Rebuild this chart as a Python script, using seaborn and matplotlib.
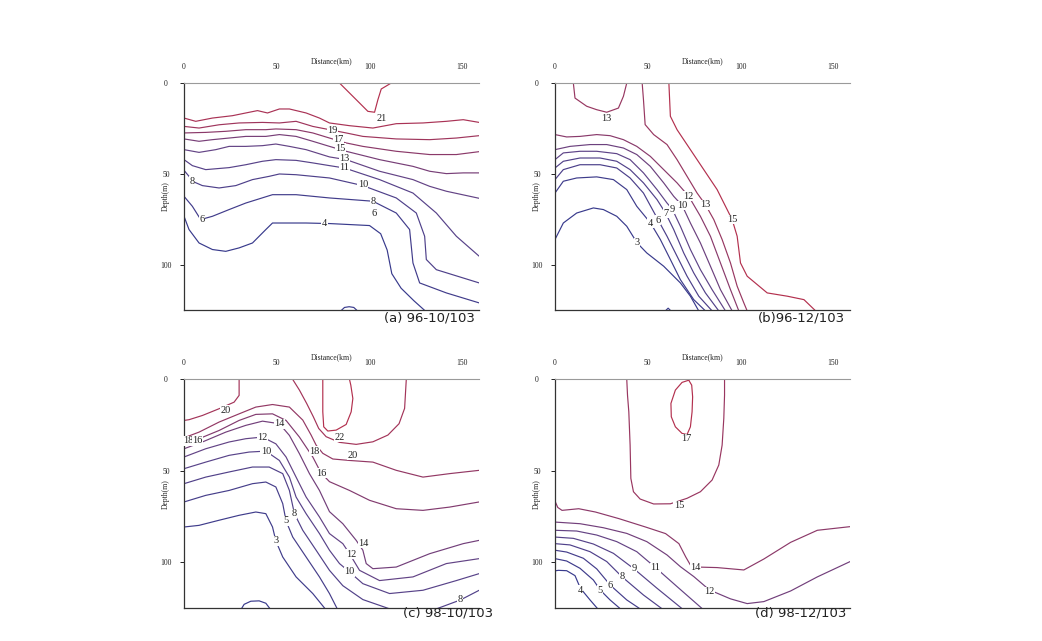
import matplotlib
matplotlib.use("Agg")
import matplotlib.pyplot as plt
import pandas as pd
import seaborn as sns
from matplotlib.colors import LinearSegmentedColormap

sns.set_theme(style="white")
plt.rcParams["font.family"] = ["Liberation Serif", "DejaVu Serif"]

# isotherms: (temperature, distance km, depth m)
A_LINES = [
    (21, [83.8, 89.2, 94.6, 99.1, 102.7, 104.5, 106.3, 111.7], [0, 5.5, 11.0, 15.6, 16.1, 9.2, 3.3, 0]),
    (20, [0, 6.3, 15.3, 26.1, 33.3, 39.6, 45.0, 51.4, 56.8, 65.8, 73.0, 78.4, 89.2, 101.8, 114.4, 128.8, 141.4, 150.5, 159.1],
         [19.3, 21.1, 19.3, 18.0, 16.5, 15.2, 16.5, 14.3, 14.3, 16.5, 19.3, 22.0, 23.5, 24.8, 22.4, 22.0, 21.1, 20.2, 21.7]),
    (19, [0, 8.1, 18.9, 29.7, 42.3, 51.4, 60.4, 69.4, 78.4, 87.4, 96.4, 114.4, 132.4, 146.8, 159.1],
         [23.9, 24.8, 23.0, 22.0, 21.7, 22.0, 21.1, 23.9, 25.7, 27.5, 29.4, 30.8, 31.2, 30.3, 29.0]),
    (17, [0, 11.7, 22.5, 33.3, 44.1, 49.5, 60.4, 69.4, 78.4, 87.4, 96.4, 114.4, 132.4, 146.8, 159.1],
         [27.5, 27.2, 26.6, 25.7, 25.7, 25.3, 25.7, 27.5, 30.3, 33.0, 34.9, 37.6, 39.4, 39.4, 37.8]),
    (15, [0, 8.1, 15.3, 24.3, 33.3, 44.1, 51.4, 60.4, 69.4, 78.4, 87.4, 105.4, 123.4, 132.4, 141.4, 150.5, 159.1],
         [30.8, 32.1, 31.2, 30.3, 29.4, 29.4, 28.4, 29.4, 32.1, 34.9, 37.6, 42.2, 45.9, 48.6, 49.9, 49.5, 49.5]),
    (13, [0, 8.1, 17.1, 24.3, 33.3, 42.3, 49.5, 56.8, 65.8, 78.4, 87.4, 105.4, 123.4, 132.4, 141.4, 159.1],
         [36.7, 38.2, 36.7, 34.9, 34.9, 34.5, 33.6, 34.9, 36.7, 40.7, 42.2, 48.6, 53.2, 56.9, 59.6, 63.5]),
    (11, [0, 4.5, 11.7, 24.3, 33.3, 42.3, 49.5, 60.4, 69.4, 78.4, 86.5, 105.4, 123.4, 136.0, 146.8, 159.1],
         [42.2, 45.5, 47.7, 46.6, 45.0, 43.1, 42.2, 42.6, 44.0, 45.5, 46.8, 53.2, 60.6, 71.6, 84.4, 95.4]),
    (9, [0, 2.7, 4.5, 9.9, 18.9, 27.9, 36.9, 45.9, 51.4, 60.4, 69.4, 78.4, 96.4, 114.4, 125.2, 129.7, 130.6, 136.0, 159.1],
        [48.1, 51.4, 54.1, 56.5, 57.8, 56.5, 53.2, 51.4, 50.1, 50.5, 51.4, 52.3, 56.5, 63.3, 71.6, 84.4, 97.2, 102.8, 110.1]),
    (6, [0, 4.5, 9.0, 15.3, 24.3, 33.3, 47.7, 60.4, 78.4, 101.8, 114.4, 121.6, 123.4, 127.0, 141.4, 159.1],
        [62.4, 67.9, 75.2, 73.4, 69.7, 66.1, 61.5, 61.5, 63.3, 65.1, 71.6, 80.7, 99.1, 110.1, 115.6, 121.1]),
    (4, [0, 2.7, 8.1, 15.3, 22.5, 29.7, 36.9, 44.1, 47.7, 65.8, 78.4, 100.0, 106.0, 109.5, 112.0, 117.0, 124.0, 130.0],
        [73.4, 80.7, 88.1, 91.7, 92.7, 90.8, 88.1, 80.7, 77.1, 77.1, 77.4, 78.5, 83.0, 92.0, 105.0, 113.0, 120.0, 125.5]),
    (4, [84.5, 86.5, 89.0, 91.5, 93.5], [125.5, 123.6, 123.2, 123.6, 125.5]),
]
A_LABELS = [("21", 106.3, 19.3), ("19", 80.2, 26.2), ("17", 83.2, 31.2), ("15", 84.3, 36.0),
            ("13", 86.5, 41.3), ("11", 86.5, 46.8), ("10", 96.4, 56.0), ("8", 101.8, 65.1),
            ("6", 102.7, 71.6), ("4", 75.7, 77.4), ("8", 4.5, 54.1), ("6", 9.5, 74.9)]

B_LINES = [
    (13, [9.9, 10.8, 17.1, 22.5, 27.9, 34.2, 36.9, 38.7], [0, 8.3, 12.8, 14.7, 16.1, 13.8, 7.3, 0]),
    (15, [61.4, 62.2, 65.8, 73.0, 80.2, 87.4, 92.8, 95.5, 98.2, 100.0, 103.6, 114.4, 125.2, 134.2, 140.5],
         [0, 18.3, 25.7, 36.7, 47.7, 58.7, 69.7, 75.2, 84.4, 99.1, 106.4, 115.6, 117.4, 119.3, 125.5]),
    (13, [47.0, 47.7, 48.6, 53.2, 60.4, 65.8, 71.2, 76.6, 81.1, 85.6, 90.1, 94.6, 98.2, 101.8, 103.6],
         [0, 9.2, 22.9, 28.4, 33.9, 42.2, 51.4, 60.6, 67.0, 75.2, 86.2, 99.1, 111.9, 121.1, 125.5]),
    (12, [0, 6.3, 13.5, 22.5, 29.7, 36.9, 44.1, 51.4, 58.6, 65.8, 72.1, 78.4, 83.8, 89.2, 94.6, 99.1],
         [28.4, 29.7, 29.4, 28.4, 29.0, 31.2, 34.9, 40.4, 47.7, 55.0, 62.4, 73.4, 84.4, 99.1, 113.8, 125.5]),
    (10, [0, 8.1, 18.9, 27.9, 36.9, 44.1, 51.4, 58.6, 64.0, 68.6, 73.0, 78.4, 83.8, 89.2, 95.5],
         [36.7, 34.9, 33.9, 33.9, 35.8, 39.4, 45.9, 55.0, 62.4, 67.5, 77.1, 88.1, 100.9, 113.8, 125.5]),
    (9, [0, 4.5, 13.5, 22.5, 33.3, 40.5, 47.7, 55.0, 60.4, 63.2, 67.6, 73.0, 78.4, 84.7, 91.9],
        [42.2, 38.5, 37.6, 37.6, 38.9, 42.2, 49.5, 58.7, 66.1, 69.4, 78.9, 91.7, 102.8, 113.8, 125.5]),
    (7, [0, 4.5, 13.5, 24.3, 33.3, 40.5, 47.7, 55.0, 59.6, 64.0, 69.4, 74.8, 81.1, 88.3],
        [46.8, 43.1, 41.3, 41.3, 43.1, 47.7, 55.0, 64.2, 71.6, 80.7, 93.6, 104.6, 115.6, 125.5]),
    (6, [0, 4.5, 13.5, 24.3, 33.3, 40.5, 47.7, 55.7, 60.4, 65.8, 71.2, 77.5, 84.7],
        [53.2, 47.7, 45.0, 45.0, 46.8, 52.3, 60.6, 75.6, 84.4, 95.4, 106.4, 117.4, 125.5]),
    (4, [0, 4.5, 11.7, 22.5, 31.5, 38.7, 44.1, 51.5, 56.8, 62.2, 67.6, 74.8, 81.1],
        [60.6, 54.1, 52.3, 51.7, 53.2, 58.7, 67.9, 77.1, 86.2, 97.2, 108.3, 119.3, 125.5]),
    (3, [0, 4.5, 11.7, 20.7, 26.1, 33.3, 38.7, 44.3, 49.5, 58.6, 67.6, 73.0, 77.5],
        [86.2, 77.1, 71.6, 68.8, 69.7, 73.4, 78.9, 88.1, 93.6, 100.9, 110.1, 117.4, 125.5]),
    (3, [59.5, 61.0, 62.5], [125.5, 124.0, 125.5]),
]
B_LABELS = [("13", 27.9, 19.3), ("12", 72.1, 62.4), ("13", 81.1, 67.0), ("15", 95.5, 75.2),
            ("10", 68.6, 67.5), ("9", 63.2, 69.4), ("7", 59.6, 71.6), ("6", 55.7, 75.6),
            ("4", 51.5, 77.1), ("3", 44.3, 88.1)]

C_LINES = [
    (20, [29.7, 29.7, 27.0, 18.9, 9.9, 2.7, 0], [0, 8.7, 12.4, 16.0, 19.7, 22.0, 22.4]),
    (22, [74.8, 74.8, 75.3, 77.5, 82.0, 87.4, 90.1, 91.0, 89.9, 89.2],
         [0, 17.7, 25.9, 28.2, 27.7, 24.6, 17.7, 10.4, 3.1, 0]),
    (20, [58.6, 62.2, 66.1, 69.7, 72.6, 76.6, 83.8, 92.8, 101.8, 109.9, 115.9, 118.9, 119.8],
         [0, 5.8, 13.1, 20.4, 26.8, 31.3, 34.4, 35.5, 34.1, 30.4, 24.2, 15.8, 0]),
    (18, [0, 8.1, 18.9, 29.7, 38.7, 47.7, 56.8, 64.0, 68.5, 71.2, 74.8, 80.2, 89.2, 101.8, 114.4, 128.8, 143.2, 159.1],
         [31.9, 28.8, 23.3, 18.8, 15.1, 13.7, 15.1, 22.2, 30.4, 35.9, 40.4, 43.5, 44.3, 45.2, 49.7, 53.4, 51.5, 49.7]),
    (16, [0, 8.1, 18.9, 29.7, 38.7, 47.7, 55.0, 62.2, 69.4, 73.9, 78.4, 89.2, 100.0, 114.4, 128.8, 143.2, 159.1],
         [35.2, 32.4, 27.9, 22.4, 19.1, 18.8, 22.4, 31.5, 42.4, 51.2, 55.9, 60.7, 66.1, 70.7, 71.6, 69.8, 67.0]),
    (14, [0, 9.9, 22.5, 33.3, 42.3, 51.4, 56.8, 62.2, 67.6, 73.0, 78.4, 85.6, 92.8, 96.4, 98.2, 101.8, 114.4, 132.4, 150.5, 159.1],
         [37.9, 34.2, 28.8, 25.1, 22.8, 24.2, 30.6, 40.6, 51.5, 60.7, 72.3, 78.9, 88.0, 93.4, 100.7, 103.5, 102.6, 95.3, 89.8, 88.0]),
    (12, [0, 11.7, 24.3, 33.3, 42.3, 49.5, 55.0, 60.4, 65.8, 73.0, 78.4, 85.6, 89.2, 94.6, 105.4, 123.4, 141.4, 159.1],
         [42.4, 37.9, 34.2, 32.4, 31.5, 35.2, 42.4, 53.4, 64.3, 75.2, 84.3, 89.8, 95.3, 104.4, 110.0, 108.0, 100.7, 98.0]),
    (10, [0, 11.7, 24.3, 35.1, 44.1, 51.4, 56.8, 60.4, 65.8, 73.0, 78.4, 83.8, 89.2, 96.4, 110.8, 128.8, 146.8, 159.1],
         [48.8, 45.2, 41.5, 39.7, 39.2, 44.3, 53.4, 64.3, 73.4, 84.3, 93.4, 100.7, 105.3, 111.7, 117.1, 115.3, 110.0, 106.2]),
    (8, [0, 11.7, 24.3, 36.9, 45.9, 53.2, 56.8, 59.5, 64.0, 71.2, 78.4, 85.6, 96.4, 112.6, 123.4, 136.0, 149.0, 159.1],
        [57.0, 53.4, 50.6, 47.9, 47.9, 51.5, 60.7, 73.4, 82.5, 93.4, 104.4, 112.8, 120.4, 126.1, 127.9, 125.5, 120.6, 115.3]),
    (5, [0, 11.7, 24.3, 36.9, 44.1, 49.5, 53.2, 55.0, 58.6, 65.8, 73.0, 78.4, 82.9],
        [67.0, 63.4, 60.7, 57.0, 56.1, 58.8, 67.9, 77.4, 86.2, 97.1, 108.0, 117.1, 126.1]),
    (3, [0, 8.1, 18.9, 29.7, 38.7, 44.1, 47.7, 49.5, 53.2, 60.4, 69.4, 76.6],
        [80.7, 79.8, 77.0, 74.3, 72.5, 73.4, 80.7, 88.3, 97.1, 108.0, 117.1, 126.1]),
    (1, [30.6, 32.4, 36.0, 40.5, 44.1, 46.8], [126.0, 123.0, 121.3, 121.1, 122.4, 126.0]),
]
C_LABELS = [("20", 22.5, 16.9), ("18", 2.4, 33.5), ("16", 7.2, 33.5), ("14", 51.4, 24.2),
            ("12", 42.3, 31.5), ("10", 44.1, 39.2), ("22", 83.8, 31.5), ("18", 70.3, 39.2),
            ("20", 91.0, 41.5), ("16", 73.9, 51.2), ("8", 59.5, 73.4), ("5", 55.0, 77.4),
            ("3", 49.5, 88.3), ("14", 96.8, 89.6), ("12", 90.1, 95.6), ("10", 89.2, 105.1),
            ("8", 149.0, 120.6)]

D_LINES = [
    (15, [38.7, 39.1, 39.8, 40.5, 40.9, 42.3, 45.9, 53.2, 62.2, 71.2, 78.4, 84.7, 88.3, 90.1, 91.0, 91.4, 91.4],
         [0, 8.6, 17.7, 35.9, 54.1, 61.4, 65.4, 68.1, 68.0, 65.0, 61.4, 55.0, 46.8, 35.9, 21.3, 8.6, 0]),
    (17, [72.1, 68.5, 64.9, 62.5, 62.7, 64.9, 68.5, 71.2, 73.0, 73.9, 74.2, 73.7, 72.1],
         [0.4, 1.6, 5.8, 13.1, 20.4, 25.9, 29.5, 30.1, 25.9, 17.7, 9.5, 3.1, 0.4]),
    (14, [0, 1.5, 3.8, 12.8, 21.8, 34.4, 48.8, 59.6, 66.8, 70.5, 73.0, 76.6, 87.4, 101.8, 112.6, 127.0, 141.4, 159.1],
         [66.5, 70.0, 71.6, 70.7, 72.5, 76.1, 80.7, 84.3, 89.8, 97.1, 101.5, 102.6, 102.9, 104.2, 98.2, 89.1, 82.5, 80.5]),
    (12, [0, 13.5, 26.1, 38.7, 49.5, 60.4, 67.6, 74.8, 83.2, 94.6, 103.6, 112.6, 127.0, 141.4, 159.1],
         [78.0, 78.9, 81.1, 84.2, 88.7, 96.0, 102.4, 107.8, 115.1, 120.0, 122.6, 121.5, 115.7, 108.0, 99.6]),
    (11, [0, 11.7, 22.5, 33.3, 44.1, 54.2, 65.8, 80.2], [82.5, 82.9, 85.1, 88.7, 94.2, 102.9, 113.3, 126.1]),
    (9, [0, 9.9, 20.7, 31.5, 42.5, 55.0, 69.4], [86.2, 86.9, 90.0, 95.1, 103.5, 114.2, 126.1]),
    (8, [0, 8.1, 18.9, 27.9, 36.2, 47.7, 58.6], [89.8, 90.5, 94.2, 99.6, 108.0, 117.9, 126.1]),
    (6, [0, 6.3, 15.3, 22.5, 29.9, 38.7, 46.8], [93.4, 94.4, 97.8, 103.6, 112.6, 120.6, 126.1]),
    (5, [0, 6.3, 13.5, 20.7, 24.5, 29.7, 36.0], [98.0, 99.3, 103.3, 109.7, 115.3, 120.6, 126.1]),
    (4, [0, 1.8, 6.3, 10.8, 13.7, 18.9, 23.6], [104.7, 104.4, 104.6, 107.3, 114.2, 120.6, 126.1]),
]
D_LABELS = [("17", 70.5, 32.4), ("15", 66.8, 68.9), ("14", 75.9, 102.6), ("12", 83.2, 116.0),
            ("11", 54.2, 102.9), ("9", 42.5, 103.5), ("8", 36.2, 108.0), ("6", 29.9, 112.6),
            ("5", 24.5, 115.3), ("4", 13.7, 115.3)]

CAPTIONS = ["(a) 96-10/103", "(b)96-12/103", "(c) 98-10/103", "(d) 98-12/103"]
X_TICKS = [0, 50, 100, 150]
Y_TICKS = [0, 50, 100]

ISO_CMAP = LinearSegmentedColormap.from_list("iso", ["#383a8c", "#5e4488", "#b3304e"])


def to_frame(lines):
    rows = []
    for i, (temp, km, depth) in enumerate(lines):
        for x, d in zip(km, depth):
            rows.append({"line": i, "temp": temp, "km": x, "depth": d})
    return pd.DataFrame(rows)


fig = plt.figure(figsize=(10.42, 6.41), dpi=100)
fig.patch.set_facecolor("white")

# axes boxes in figure fractions, and caption anchors (right edge, centre y)
boxes = [(0.1766, 0.5164, 0.2831, 0.3541), (0.5326, 0.5164, 0.2831, 0.3541),
         (0.1766, 0.0515, 0.2831, 0.3565), (0.5326, 0.0515, 0.2831, 0.3565)]
cap_pos = [(0.4559, 0.504), (0.8110, 0.504), (0.4730, 0.0437), (0.8120, 0.0437)]

panels = [(A_LINES, A_LABELS), (B_LINES, B_LABELS), (C_LINES, C_LABELS), (D_LINES, D_LABELS)]

for (lines, labels), box, cap, (cx, cy) in zip(panels, boxes, CAPTIONS, cap_pos):
    ax = fig.add_axes(box)
    df = to_frame(lines)
    temps = [t for t, _, _ in lines]
    sns.lineplot(data=df, x="km", y="depth", hue="temp", units="line", estimator=None,
                 sort=False, palette=ISO_CMAP, hue_norm=(min(temps), max(temps)),
                 legend=False, linewidth=0.85, ax=ax)

    for txt, x, d in labels:
        ax.text(x, d, txt, ha="center", va="center", fontsize=7.5, color="#222222", zorder=5,
                bbox=dict(boxstyle="square,pad=0.04", fc="white", ec="none"))

    ax.set_xlim(0, 159)
    ax.set_ylim(125, 0)
    ax.set_xlabel("")
    ax.set_ylabel("")

    ax.xaxis.tick_top()
    ax.set_xticks(X_TICKS)
    ax.set_xticks([100], minor=True)
    ax.tick_params(axis="x", which="major", length=0, pad=9, labelsize=5.5,
                   top=True, bottom=False, labeltop=True, labelbottom=False, colors="#222222")
    ax.tick_params(axis="x", which="minor", direction="in", length=4, width=0.7,
                   top=True, bottom=False, color="#444444")
    ax.set_yticks(Y_TICKS)
    ax.tick_params(axis="y", length=3, width=0.7, pad=10, labelsize=5.5, left=True,
                   direction="out", colors="#222222")
    for lab in ax.get_yticklabels():
        lab.set_horizontalalignment("center")

    ax.spines["right"].set_visible(False)
    ax.spines["top"].set_color("#9a9a9a")
    ax.spines["top"].set_linewidth(0.8)
    for side in ("left", "bottom"):
        ax.spines[side].set_color("#333333")
        ax.spines[side].set_linewidth(0.9)

    ax.text(0.5, 1.098, "Distance(km)", transform=ax.transAxes, ha="center", va="center",
            fontsize=5.5, color="#222222")
    ax.text(-0.061, 0.5, "Depth(m)", transform=ax.transAxes, rotation=90, ha="center",
            va="center", fontsize=5.5, color="#222222")

    fig.text(cx, cy, cap, ha="right", va="center", fontsize=9.5,
             family=["DejaVu Sans"], color="#222222")

fig.savefig("out.png", dpi=100, facecolor="white")
